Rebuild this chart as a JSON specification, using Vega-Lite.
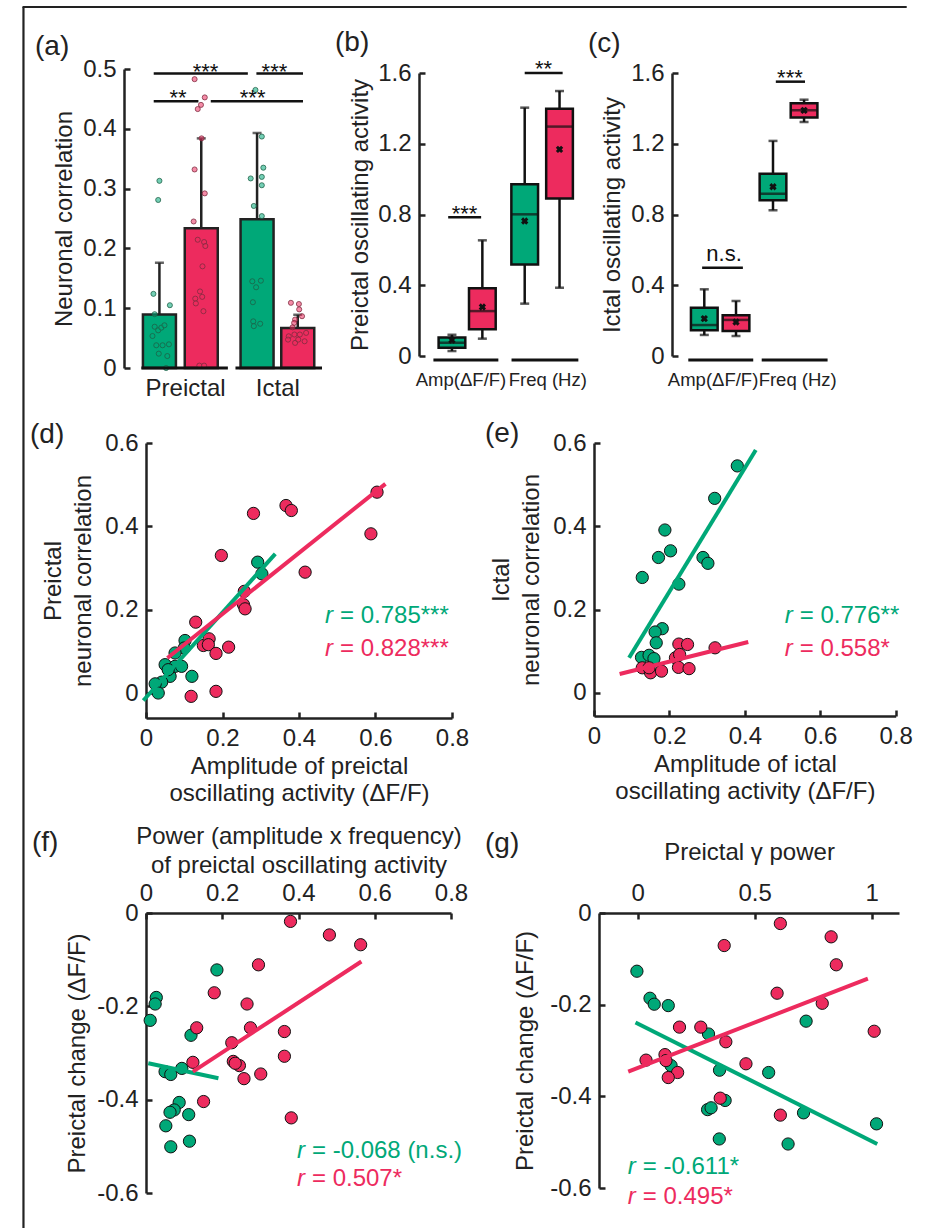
{
 "$schema": "https://vega.github.io/schema/vega-lite/v6.json",
 "padding": {"left": 21, "top": 5, "right": 34, "bottom": 17},
 "background": "white",
 "columns": 3,
 "spacing": {"row": 75, "column": 10},
 "bounds": "flush",
 "align": {"row": "each", "column": "each"},
 "resolve": {"scale": {"color": "independent", "fill": "independent", "stroke": "independent"}},
 "config": {
  "font": "Liberation Sans",
  "view": {"stroke": null},
  "axis": {"grid": false, "domainColor": "#222", "domainWidth": 2.5, "tickColor": "#222", "tickWidth": 2.5, "tickSize": -6, "labelColor": "#222", "labelFont": "Liberation Sans", "labelFontSize": 24, "labelPadding": 14, "labelFlush": false, "labelOverlap": false, "titleColor": "#222", "titleFont": "Liberation Sans", "titleFontSize": 24, "titleFontWeight": "normal", "titlePadding": 6},
  "title": {"font": "Liberation Sans", "fontSize": 28, "fontWeight": "normal", "anchor": "start", "frame": "group", "offset": 0, "color": "#222"},
  "text": {"font": "Liberation Sans", "fontSize": 24}
 },
 "datasets": {
  "frame_v": [{"pos": -111, "v": 0.6037, "v2": -1.44}],
  "frame_h": [{"pos": -112, "pos2": 818, "v": 0.6037}],
  "a_bars": [
   {"series": "S1", "phase": "Preictal", "pos": 32, "mean": 0.0894, "top": 0.176},
   {"series": "S2", "phase": "Preictal", "pos": 76, "mean": 0.2335, "top": 0.384},
   {"series": "S1", "phase": "Ictal", "pos": 134.7, "mean": 0.2486, "top": 0.393},
   {"series": "S2", "phase": "Ictal", "pos": 177.5, "mean": 0.067, "top": 0.089}
  ],
  "a_dots": [
   {"series": "S1", "pos": 32, "v": 0.313}, {"series": "S1", "pos": 30.7, "v": 0.281}, {"series": "S1", "pos": 25.7, "v": 0.124}, {"series": "S1", "pos": 43, "v": 0.105},
   {"series": "S1", "pos": 27, "v": 0.09}, {"series": "S1", "pos": 27, "v": 0.069}, {"series": "S1", "pos": 30.7, "v": 0.063}, {"series": "S1", "pos": 34, "v": 0.0675},
   {"series": "S1", "pos": 37.3, "v": 0.0714}, {"series": "S1", "pos": 24.7, "v": 0.0535}, {"series": "S1", "pos": 28.7, "v": 0.038}, {"series": "S1", "pos": 35.3, "v": 0.038},
   {"series": "S1", "pos": 42, "v": 0.0396}, {"series": "S1", "pos": 31.3, "v": 0.024}, {"series": "S1", "pos": 40.3, "v": 0.02}, {"series": "S1", "pos": 39, "v": 0.0},
   {"series": "S2", "pos": 69, "v": 0.483}, {"series": "S2", "pos": 79.7, "v": 0.4525}, {"series": "S2", "pos": 75.7, "v": 0.44}, {"series": "S2", "pos": 72.3, "v": 0.433},
   {"series": "S2", "pos": 76.3, "v": 0.384}, {"series": "S2", "pos": 69, "v": 0.332}, {"series": "S2", "pos": 79.7, "v": 0.292}, {"series": "S2", "pos": 68, "v": 0.245},
   {"series": "S2", "pos": 72.3, "v": 0.2145}, {"series": "S2", "pos": 79, "v": 0.2106}, {"series": "S2", "pos": 80.3, "v": 0.204}, {"series": "S2", "pos": 77.3, "v": 0.17},
   {"series": "S2", "pos": 74.7, "v": 0.128}, {"series": "S2", "pos": 77, "v": 0.119}, {"series": "S2", "pos": 69.7, "v": 0.116}, {"series": "S2", "pos": 70.3, "v": 0.108},
   {"series": "S2", "pos": 78.3, "v": 0.095}, {"series": "S2", "pos": 74, "v": 0.004}, {"series": "S2", "pos": 79, "v": 0.004},
   {"series": "S1", "pos": 133, "v": 0.465}, {"series": "S1", "pos": 139.7, "v": 0.387}, {"series": "S1", "pos": 141.3, "v": 0.335}, {"series": "S1", "pos": 128, "v": 0.317},
   {"series": "S1", "pos": 139.7, "v": 0.3196}, {"series": "S1", "pos": 139.7, "v": 0.3056}, {"series": "S1", "pos": 131.3, "v": 0.271}, {"series": "S1", "pos": 139.7, "v": 0.254},
   {"series": "S1", "pos": 129.7, "v": 0.145}, {"series": "S1", "pos": 138.7, "v": 0.146}, {"series": "S1", "pos": 133.7, "v": 0.135}, {"series": "S1", "pos": 130.3, "v": 0.11},
   {"series": "S1", "pos": 130.7, "v": 0.078}, {"series": "S1", "pos": 138, "v": 0.074}, {"series": "S1", "pos": 131.3, "v": 0.07},
   {"series": "S2", "pos": 170.3, "v": 0.109}, {"series": "S2", "pos": 178.7, "v": 0.107}, {"series": "S2", "pos": 179, "v": 0.098}, {"series": "S2", "pos": 182, "v": 0.0866},
   {"series": "S2", "pos": 174.7, "v": 0.081}, {"series": "S2", "pos": 173.7, "v": 0.0754}, {"series": "S2", "pos": 172, "v": 0.068}, {"series": "S2", "pos": 168, "v": 0.053},
   {"series": "S2", "pos": 174, "v": 0.056}, {"series": "S2", "pos": 179.7, "v": 0.056}, {"series": "S2", "pos": 186.3, "v": 0.0587}, {"series": "S2", "pos": 184.7, "v": 0.0447},
   {"series": "S2", "pos": 174.7, "v": 0.042}, {"series": "S2", "pos": 178, "v": 0.0475}, {"series": "S2", "pos": 167.3, "v": 0.0475}
  ],
  "a_axis": [{"pos": 13, "pos2": 104}, {"pos": 112, "pos2": 203}],
  "a_sig": [
   {"pos": 26, "pos2": 125, "v": 0.4925, "label": "***", "tpos": 80.5, "tv": 0.4833},
   {"pos": 134, "pos2": 183, "v": 0.4925, "label": "***", "tpos": 153, "tv": 0.4833},
   {"pos": 26, "pos2": 73, "v": 0.446, "label": "**", "tpos": 51.5, "tv": 0.439},
   {"pos": 86, "pos2": 183, "v": 0.446, "label": "***", "tpos": 130, "tv": 0.439}
  ],
  "b_box": [
   {"series": "S1", "var": "Amp", "pos": 29.7, "lo": 0.028, "q1": 0.047, "med": 0.075, "q3": 0.104, "hi": 0.12, "mean": 0.09},
   {"series": "S2", "var": "Amp", "pos": 62, "lo": 0.098, "q1": 0.151, "med": 0.254, "q3": 0.383, "hi": 0.654, "mean": 0.277},
   {"series": "S1", "var": "Freq", "pos": 107, "lo": 0.296, "q1": 0.518, "med": 0.801, "q3": 0.971, "hi": 1.404, "mean": 0.763},
   {"series": "S2", "var": "Freq", "pos": 144, "lo": 0.386, "q1": 0.891, "med": 1.297, "q3": 1.398, "hi": 1.498, "mean": 1.168}
  ],
  "b_axis": [{"pos": 10, "pos2": 79}, {"pos": 93, "pos2": 164}],
  "b_sig": [
   {"pos": 25.7, "pos2": 60.7, "v": 0.785, "label": "***", "tpos": 43, "tv": 0.766},
   {"pos": 107, "pos2": 147.3, "v": 1.6, "label": "**", "tpos": 127, "tv": 1.583}
  ],
  "c_box": [
   {"series": "S1", "var": "Amp", "pos": 29, "lo": 0.119, "q1": 0.145, "med": 0.175, "q3": 0.273, "hi": 0.377, "mean": 0.211},
   {"series": "S2", "var": "Amp", "pos": 62.7, "lo": 0.113, "q1": 0.141, "med": 0.204, "q3": 0.23, "hi": 0.311, "mean": 0.192},
   {"series": "S1", "var": "Freq", "pos": 102, "lo": 0.824, "q1": 0.88, "med": 0.918, "q3": 1.031, "hi": 1.216, "mean": 0.957},
   {"series": "S2", "var": "Freq", "pos": 135, "lo": 1.323, "q1": 1.348, "med": 1.389, "q3": 1.429, "hi": 1.449, "mean": 1.389}
  ],
  "c_axis": [{"pos": 12, "pos2": 81}, {"pos": 90, "pos2": 160}],
  "c_sig": [
   {"pos": 26.7, "pos2": 70, "v": 0.499, "label": "n.s.", "tpos": 50, "tv": 0.537},
   {"pos": 105, "pos2": 136, "v": 1.551, "label": "***", "tpos": 120, "tv": 1.53}
  ],
  "d_pts": [
   {"series": "S1", "x": 0.292, "y": 0.314}, {"series": "S1", "x": 0.303, "y": 0.286}, {"series": "S1", "x": 0.102, "y": 0.126}, {"series": "S1", "x": 0.1, "y": 0.108},
   {"series": "S1", "x": 0.076, "y": 0.096}, {"series": "S1", "x": 0.05, "y": 0.068}, {"series": "S1", "x": 0.076, "y": 0.064}, {"series": "S1", "x": 0.093, "y": 0.064},
   {"series": "S1", "x": 0.063, "y": 0.04}, {"series": "S1", "x": 0.12, "y": 0.04}, {"series": "S1", "x": 0.041, "y": 0.026}, {"series": "S1", "x": 0.024, "y": 0.022},
   {"series": "S1", "x": 0.032, "y": 0.0}, {"series": "S1", "x": 0.058, "y": 0.056},
   {"series": "S2", "x": 0.604, "y": 0.482}, {"series": "S2", "x": 0.588, "y": 0.382}, {"series": "S2", "x": 0.366, "y": 0.45}, {"series": "S2", "x": 0.38, "y": 0.438},
   {"series": "S2", "x": 0.281, "y": 0.431}, {"series": "S2", "x": 0.197, "y": 0.33}, {"series": "S2", "x": 0.416, "y": 0.29}, {"series": "S2", "x": 0.257, "y": 0.244},
   {"series": "S2", "x": 0.255, "y": 0.212}, {"series": "S2", "x": 0.259, "y": 0.202}, {"series": "S2", "x": 0.13, "y": 0.17}, {"series": "S2", "x": 0.15, "y": 0.114},
   {"series": "S2", "x": 0.165, "y": 0.13}, {"series": "S2", "x": 0.163, "y": 0.116}, {"series": "S2", "x": 0.183, "y": 0.095}, {"series": "S2", "x": 0.216, "y": 0.11},
   {"series": "S2", "x": 0.118, "y": -0.008}, {"series": "S2", "x": 0.183, "y": 0.004}
  ],
  "d_fit": [
   {"series": "S1", "x": -0.007, "y": -0.018, "x2": 0.338, "y2": 0.334},
   {"series": "S2", "x": 0.056, "y": 0.084, "x2": 0.626, "y2": 0.502}
  ],
  "d_r": [
   {"series": "S1", "x": 0.468, "y": 0.169, "txt": "= 0.785***"},
   {"series": "S2", "x": 0.468, "y": 0.089, "txt": "= 0.828***"}
  ],
  "e_pts": [
   {"series": "S1", "x": 0.38, "y": 0.545}, {"series": "S1", "x": 0.32, "y": 0.467}, {"series": "S1", "x": 0.188, "y": 0.391}, {"series": "S1", "x": 0.203, "y": 0.341},
   {"series": "S1", "x": 0.171, "y": 0.325}, {"series": "S1", "x": 0.289, "y": 0.325}, {"series": "S1", "x": 0.302, "y": 0.311}, {"series": "S1", "x": 0.128, "y": 0.277},
   {"series": "S1", "x": 0.225, "y": 0.261}, {"series": "S1", "x": 0.181, "y": 0.154}, {"series": "S1", "x": 0.162, "y": 0.146}, {"series": "S1", "x": 0.165, "y": 0.12},
   {"series": "S1", "x": 0.126, "y": 0.085}, {"series": "S1", "x": 0.146, "y": 0.09}, {"series": "S1", "x": 0.159, "y": 0.082},
   {"series": "S2", "x": 0.321, "y": 0.108}, {"series": "S2", "x": 0.225, "y": 0.117}, {"series": "S2", "x": 0.248, "y": 0.116}, {"series": "S2", "x": 0.216, "y": 0.084},
   {"series": "S2", "x": 0.227, "y": 0.092}, {"series": "S2", "x": 0.128, "y": 0.06}, {"series": "S2", "x": 0.15, "y": 0.048}, {"series": "S2", "x": 0.179, "y": 0.052},
   {"series": "S2", "x": 0.224, "y": 0.061}, {"series": "S2", "x": 0.252, "y": 0.058}, {"series": "S2", "x": 0.146, "y": 0.06}
  ],
  "e_fit": [
   {"series": "S1", "x": 0.093, "y": 0.084, "x2": 0.429, "y2": 0.583},
   {"series": "S2", "x": 0.068, "y": 0.045, "x2": 0.409, "y2": 0.122}
  ],
  "e_r": [
   {"series": "S1", "x": 0.506, "y": 0.168, "txt": "= 0.776**"},
   {"series": "S2", "x": 0.506, "y": 0.088, "txt": "= 0.558*"}
  ],
  "f_pts": [
   {"series": "S1", "x": 0.186, "y": -0.122}, {"series": "S1", "x": 0.027, "y": -0.181}, {"series": "S1", "x": 0.024, "y": -0.195}, {"series": "S1", "x": 0.011, "y": -0.23},
   {"series": "S1", "x": 0.118, "y": -0.262}, {"series": "S1", "x": 0.094, "y": -0.333}, {"series": "S1", "x": 0.05, "y": -0.34}, {"series": "S1", "x": 0.065, "y": -0.346},
   {"series": "S1", "x": 0.087, "y": -0.406}, {"series": "S1", "x": 0.074, "y": -0.422}, {"series": "S1", "x": 0.063, "y": -0.427}, {"series": "S1", "x": 0.112, "y": -0.432},
   {"series": "S1", "x": 0.052, "y": -0.456}, {"series": "S1", "x": 0.114, "y": -0.489}, {"series": "S1", "x": 0.065, "y": -0.501},
   {"series": "S2", "x": 0.379, "y": -0.018}, {"series": "S2", "x": 0.481, "y": -0.047}, {"series": "S2", "x": 0.563, "y": -0.068}, {"series": "S2", "x": 0.295, "y": -0.111},
   {"series": "S2", "x": 0.179, "y": -0.171}, {"series": "S2", "x": 0.265, "y": -0.195}, {"series": "S2", "x": 0.133, "y": -0.246}, {"series": "S2", "x": 0.274, "y": -0.246},
   {"series": "S2", "x": 0.363, "y": -0.254}, {"series": "S2", "x": 0.225, "y": -0.278}, {"series": "S2", "x": 0.123, "y": -0.32}, {"series": "S2", "x": 0.229, "y": -0.318},
   {"series": "S2", "x": 0.245, "y": -0.327}, {"series": "S2", "x": 0.234, "y": -0.322}, {"series": "S2", "x": 0.257, "y": -0.355}, {"series": "S2", "x": 0.301, "y": -0.345},
   {"series": "S2", "x": 0.363, "y": -0.307}, {"series": "S2", "x": 0.151, "y": -0.404}, {"series": "S2", "x": 0.381, "y": -0.439}
  ],
  "f_fit": [
   {"series": "S1", "x": 0.006, "y": -0.322, "x2": 0.19, "y2": -0.354},
   {"series": "S2", "x": 0.123, "y": -0.34, "x2": 0.565, "y2": -0.104}
  ],
  "f_r": [
   {"series": "S1", "x": 0.396, "y": -0.524, "txt": "= -0.068 (n.s.)"},
   {"series": "S2", "x": 0.396, "y": -0.585, "txt": "= 0.507*"}
  ],
  "g_pts": [
   {"series": "S1", "x": -0.003, "y": -0.127}, {"series": "S1", "x": 0.053, "y": -0.186}, {"series": "S1", "x": 0.071, "y": -0.199}, {"series": "S1", "x": 0.131, "y": -0.202},
   {"series": "S1", "x": 0.303, "y": -0.264}, {"series": "S1", "x": 0.72, "y": -0.236}, {"series": "S1", "x": 0.35, "y": -0.343}, {"series": "S1", "x": 0.56, "y": -0.348},
   {"series": "S1", "x": 0.143, "y": -0.333}, {"series": "S1", "x": 0.374, "y": -0.409}, {"series": "S1", "x": 0.299, "y": -0.429}, {"series": "S1", "x": 0.314, "y": -0.425},
   {"series": "S1", "x": 0.349, "y": -0.493}, {"series": "S1", "x": 0.709, "y": -0.436}, {"series": "S1", "x": 0.643, "y": -0.504}, {"series": "S1", "x": 1.021, "y": -0.46},
   {"series": "S2", "x": 0.61, "y": -0.023}, {"series": "S2", "x": 0.827, "y": -0.052}, {"series": "S2", "x": 0.37, "y": -0.071}, {"series": "S2", "x": 0.849, "y": -0.113},
   {"series": "S2", "x": 0.596, "y": -0.175}, {"series": "S2", "x": 0.789, "y": -0.197}, {"series": "S2", "x": 1.011, "y": -0.258}, {"series": "S2", "x": 0.179, "y": -0.249},
   {"series": "S2", "x": 0.27, "y": -0.249}, {"series": "S2", "x": 0.377, "y": -0.281}, {"series": "S2", "x": 0.036, "y": -0.321}, {"series": "S2", "x": 0.117, "y": -0.309},
   {"series": "S2", "x": 0.121, "y": -0.322}, {"series": "S2", "x": 0.171, "y": -0.348}, {"series": "S2", "x": 0.131, "y": -0.359}, {"series": "S2", "x": 0.463, "y": -0.329},
   {"series": "S2", "x": 0.353, "y": -0.404}, {"series": "S2", "x": 0.61, "y": -0.441}
  ],
  "g_fit": [
   {"series": "S1", "x": -0.009, "y": -0.239, "x2": 1.024, "y2": -0.504},
   {"series": "S2", "x": -0.04, "y": -0.346, "x2": 0.984, "y2": -0.143}
  ],
  "g_r": [
   {"series": "S1", "x": -0.042, "y": -0.57, "txt": "= -0.611*"},
   {"series": "S2", "x": -0.042, "y": -0.634, "txt": "= 0.495*"}
  ]
 },
 "concat": [
  {
   "width": 253, "height": 299,
   "title": {"text": "(a)", "dx": -111, "dy": 59},
   "layer": [
    {"data": {"name": "a_bars"}, "mark": {"type": "bar", "width": 33, "stroke": "#222", "strokeWidth": 2.5},
     "encoding": {
      "x": {"field": "pos", "type": "quantitative", "scale": {"domain": [0, 203], "range": [-22, 181], "nice": false, "zero": false}, "axis": {"values": [59, 156], "labelExpr": "datum.value < 100 ? 'Preictal' : 'Ictal'", "ticks": false, "domain": false, "title": null, "labelPadding": 8}},
      "y": {"field": "mean", "type": "quantitative", "scale": {"domain": [0, 0.5], "nice": false, "zero": false}, "axis": {"values": [0, 0.1, 0.2, 0.3, 0.4, 0.5], "labelExpr": "datum.value == 0 ? '0' : (datum.value < 0 ? '-' : '') + format(abs(datum.value), '~g')", "title": "Neuronal correlation", "offset": 22}},
      "y2": {"datum": 0},
      "fill": {"field": "series", "type": "nominal", "scale": {"domain": ["S1", "S2"], "range": ["#00A878", "#ED2B5E"]}, "legend": null}
     }},
    {"data": {"name": "a_bars"}, "mark": {"type": "rule", "strokeWidth": 2.5, "color": "#222"},
     "encoding": {"x": {"field": "pos", "type": "quantitative"}, "y": {"field": "mean", "type": "quantitative"}, "y2": {"field": "top"}}},
    {"data": {"name": "a_bars"}, "mark": {"type": "tick", "orient": "horizontal", "size": 9, "thickness": 2.5, "color": "#222"},
     "encoding": {"x": {"field": "pos", "type": "quantitative"}, "y": {"field": "top", "type": "quantitative"}}},
    {"data": {"name": "a_dots"}, "mark": {"type": "point", "filled": true, "size": 26, "strokeWidth": 0.9, "opacity": 1, "fillOpacity": 0.55, "strokeOpacity": 0.85},
     "encoding": {"x": {"field": "pos", "type": "quantitative"}, "y": {"field": "v", "type": "quantitative"},
      "color": {"field": "series", "type": "nominal", "scale": {"domain": ["S1", "S2"], "range": ["#00A878", "#ED2B5E"]}, "legend": null},
      "stroke": {"field": "series", "type": "nominal", "scale": {"domain": ["S1", "S2"], "range": ["#1E5E46", "#7A2B3E"]}, "legend": null}}},
    {"data": {"name": "a_axis"}, "mark": {"type": "rule", "strokeWidth": 3, "color": "#111"},
     "encoding": {"x": {"field": "pos", "type": "quantitative"}, "x2": {"field": "pos2"}, "y": {"datum": 0}}},
    {"data": {"name": "a_sig"}, "mark": {"type": "rule", "strokeWidth": 2.5, "color": "#111"},
     "encoding": {"x": {"field": "pos", "type": "quantitative"}, "x2": {"field": "pos2"}, "y": {"field": "v", "type": "quantitative"}}},
    {"data": {"name": "a_sig"}, "mark": {"type": "text", "fontSize": 22, "align": "center", "baseline": "alphabetic", "color": "#111"},
     "encoding": {"x": {"field": "tpos", "type": "quantitative"}, "y": {"field": "tv", "type": "quantitative"}, "text": {"field": "label"}}},
    {"data": {"name": "frame_h"}, "mark": {"type": "rule", "strokeWidth": 2.2, "color": "#222"},
     "encoding": {"x": {"field": "pos", "type": "quantitative"}, "x2": {"field": "pos2"}, "y": {"field": "v", "type": "quantitative"}}},
    {"data": {"name": "frame_v"}, "mark": {"type": "rule", "strokeWidth": 2.2, "color": "#222"},
     "encoding": {"x": {"field": "pos", "type": "quantitative"}, "y": {"field": "v", "type": "quantitative"}, "y2": {"field": "v2"}}}
   ]
  },
  {
   "width": 253, "height": 299,
   "title": {"text": "(b)", "dx": -74, "dy": 3},
   "layer": [
    {"data": {"name": "b_box"}, "mark": {"type": "rule", "strokeWidth": 2.5, "color": "#111"},
     "encoding": {
      "x": {"field": "pos", "type": "quantitative", "scale": {"domain": [0, 170], "range": [10, 180], "nice": false, "zero": false}, "axis": {"values": [38.8, 131], "labelExpr": "datum.value < 80 ? 'Amp(ΔF/F)' : 'Freq (Hz)'", "ticks": false, "domain": false, "title": null, "labelFontSize": 18.5, "labelPadding": 2}},
      "y": {"field": "lo", "type": "quantitative", "scale": {"domain": [0, 1.6], "range": [287, 4], "nice": false, "zero": false}, "axis": {"values": [0, 0.4, 0.8, 1.2, 1.6], "labelExpr": "datum.value == 0 ? '0' : (datum.value < 0 ? '-' : '') + format(abs(datum.value), '~g')", "title": "Preictal oscillating activity", "titlePadding": 5, "offset": -10}},
      "y2": {"field": "hi"}}},
    {"data": {"name": "b_box"}, "mark": {"type": "tick", "orient": "horizontal", "size": 9, "thickness": 2.5, "color": "#111"},
     "encoding": {"x": {"field": "pos", "type": "quantitative"}, "y": {"field": "lo", "type": "quantitative"}}},
    {"data": {"name": "b_box"}, "mark": {"type": "tick", "orient": "horizontal", "size": 9, "thickness": 2.5, "color": "#111"},
     "encoding": {"x": {"field": "pos", "type": "quantitative"}, "y": {"field": "hi", "type": "quantitative"}}},
    {"data": {"name": "b_box"}, "mark": {"type": "bar", "width": 26.7, "stroke": "#111", "strokeWidth": 2.5},
     "encoding": {"x": {"field": "pos", "type": "quantitative"}, "y": {"field": "q1", "type": "quantitative"}, "y2": {"field": "q3"},
      "fill": {"field": "series", "type": "nominal", "scale": {"domain": ["S1", "S2"], "range": ["#00A878", "#ED2B5E"]}, "legend": null}}},
    {"data": {"name": "b_box"}, "mark": {"type": "tick", "orient": "horizontal", "size": 26.7, "thickness": 2.5, "color": "#111"},
     "encoding": {"x": {"field": "pos", "type": "quantitative"}, "y": {"field": "med", "type": "quantitative"}}},
    {"data": {"name": "b_box"}, "mark": {"type": "point", "shape": "cross", "angle": 45, "filled": true, "size": 55, "color": "#111", "opacity": 1},
     "encoding": {"x": {"field": "pos", "type": "quantitative"}, "y": {"field": "mean", "type": "quantitative"}}},
    {"data": {"name": "b_axis"}, "mark": {"type": "rule", "strokeWidth": 3, "color": "#111"},
     "encoding": {"x": {"field": "pos", "type": "quantitative"}, "x2": {"field": "pos2"}, "y": {"datum": -0.0226}}},
    {"data": {"name": "b_sig"}, "mark": {"type": "rule", "strokeWidth": 2.5, "color": "#111"},
     "encoding": {"x": {"field": "pos", "type": "quantitative"}, "x2": {"field": "pos2"}, "y": {"field": "v", "type": "quantitative"}}},
    {"data": {"name": "b_sig"}, "mark": {"type": "text", "fontSize": 22, "align": "center", "baseline": "alphabetic", "color": "#111"},
     "encoding": {"x": {"field": "tpos", "type": "quantitative"}, "y": {"field": "tv", "type": "quantitative"}, "text": {"field": "label"}}}
   ]
  },
  {
   "width": 253, "height": 299,
   "title": {"text": "(c)", "dx": -84, "dy": 1},
   "layer": [
    {"data": {"name": "c_box"}, "mark": {"type": "rule", "strokeWidth": 2.5, "color": "#111"},
     "encoding": {
      "x": {"field": "pos", "type": "quantitative", "scale": {"domain": [0, 170], "range": [0, 170], "nice": false, "zero": false}, "axis": {"values": [37.8, 127.7], "labelExpr": "datum.value < 80 ? 'Amp(ΔF/F)' : 'Freq (Hz)'", "ticks": false, "domain": false, "title": null, "labelFontSize": 18.5, "labelPadding": 2}},
      "y": {"field": "lo", "type": "quantitative", "scale": {"domain": [0, 1.6], "range": [287, 4], "nice": false, "zero": false}, "axis": {"values": [0, 0.4, 0.8, 1.2, 1.6], "labelExpr": "datum.value == 0 ? '0' : (datum.value < 0 ? '-' : '') + format(abs(datum.value), '~g')", "title": "Ictal oscillating activity", "titlePadding": 6}},
      "y2": {"field": "hi"}}},
    {"data": {"name": "c_box"}, "mark": {"type": "tick", "orient": "horizontal", "size": 9, "thickness": 2.5, "color": "#111"},
     "encoding": {"x": {"field": "pos", "type": "quantitative"}, "y": {"field": "lo", "type": "quantitative"}}},
    {"data": {"name": "c_box"}, "mark": {"type": "tick", "orient": "horizontal", "size": 9, "thickness": 2.5, "color": "#111"},
     "encoding": {"x": {"field": "pos", "type": "quantitative"}, "y": {"field": "hi", "type": "quantitative"}}},
    {"data": {"name": "c_box"}, "mark": {"type": "bar", "width": 26.7, "stroke": "#111", "strokeWidth": 2.5},
     "encoding": {"x": {"field": "pos", "type": "quantitative"}, "y": {"field": "q1", "type": "quantitative"}, "y2": {"field": "q3"},
      "fill": {"field": "series", "type": "nominal", "scale": {"domain": ["S1", "S2"], "range": ["#00A878", "#ED2B5E"]}, "legend": null}}},
    {"data": {"name": "c_box"}, "mark": {"type": "tick", "orient": "horizontal", "size": 26.7, "thickness": 2.5, "color": "#111"},
     "encoding": {"x": {"field": "pos", "type": "quantitative"}, "y": {"field": "med", "type": "quantitative"}}},
    {"data": {"name": "c_box"}, "mark": {"type": "point", "shape": "cross", "angle": 45, "filled": true, "size": 55, "color": "#111", "opacity": 1},
     "encoding": {"x": {"field": "pos", "type": "quantitative"}, "y": {"field": "mean", "type": "quantitative"}}},
    {"data": {"name": "c_axis"}, "mark": {"type": "rule", "strokeWidth": 3, "color": "#111"},
     "encoding": {"x": {"field": "pos", "type": "quantitative"}, "x2": {"field": "pos2"}, "y": {"datum": -0.0226}}},
    {"data": {"name": "c_sig"}, "mark": {"type": "rule", "strokeWidth": 2.5, "color": "#111"},
     "encoding": {"x": {"field": "pos", "type": "quantitative"}, "x2": {"field": "pos2"}, "y": {"field": "v", "type": "quantitative"}}},
    {"data": {"name": "c_sig"}, "mark": {"type": "text", "fontSize": 22, "align": "center", "baseline": "alphabetic", "color": "#111"},
     "encoding": {"x": {"field": "tpos", "type": "quantitative"}, "y": {"field": "tv", "type": "quantitative"}, "text": {"field": "label"}}}
   ]
  },
  {
   "width": 253, "height": 275,
   "title": {"text": "(d)", "dx": -116, "dy": 22},
   "layer": [
    {"data": {"name": "d_pts"}, "mark": {"type": "point", "filled": true, "size": 150, "stroke": "#111", "strokeWidth": 1, "opacity": 1},
     "encoding": {
      "x": {"field": "x", "type": "quantitative", "scale": {"domain": [0, 0.8], "range": [0, 306], "nice": false, "zero": false}, "axis": {"values": [0, 0.2, 0.4, 0.6, 0.8], "labelExpr": "datum.value == 0 ? '0' : (datum.value < 0 ? '-' : '') + format(abs(datum.value), '~g')", "title": ["Amplitude of preictal", "oscillating activity (ΔF/F)"], "titleLineHeight": 27, "titlePadding": 4}},
      "y": {"field": "y", "type": "quantitative", "scale": {"domain": [-0.06, 0.6], "nice": false, "zero": false}, "axis": {"values": [0, 0.2, 0.4, 0.6], "labelExpr": "datum.value == 0 ? '0' : (datum.value < 0 ? '-' : '') + format(abs(datum.value), '~g')", "title": ["Preictal", "neuronal correlation"], "titleLineHeight": 30, "titlePadding": 9}},
      "color": {"field": "series", "type": "nominal", "scale": {"domain": ["S1", "S2"], "range": ["#00A878", "#ED2B5E"]}, "legend": null}}},
    {"data": {"name": "d_fit"}, "mark": {"type": "rule", "strokeWidth": 4},
     "encoding": {"x": {"field": "x", "type": "quantitative"}, "y": {"field": "y", "type": "quantitative"}, "x2": {"field": "x2"}, "y2": {"field": "y2"}, "color": {"field": "series", "type": "nominal", "legend": null}}},
    {"data": {"name": "d_r"}, "mark": {"type": "text", "text": "r", "fontStyle": "italic", "fontSize": 24, "align": "left", "baseline": "alphabetic"},
     "encoding": {"x": {"field": "x", "type": "quantitative"}, "y": {"field": "y", "type": "quantitative"}, "color": {"field": "series", "type": "nominal", "legend": null}}},
    {"data": {"name": "d_r"}, "mark": {"type": "text", "fontSize": 24, "align": "left", "baseline": "alphabetic", "dx": 15},
     "encoding": {"x": {"field": "x", "type": "quantitative"}, "y": {"field": "y", "type": "quantitative"}, "text": {"field": "txt"}, "color": {"field": "series", "type": "nominal", "legend": null}}}
   ]
  },
  {
   "width": 253, "height": 273,
   "title": {"text": "(e)", "dx": 76, "dy": 21},
   "layer": [
    {"data": {"name": "e_pts"}, "mark": {"type": "point", "filled": true, "size": 150, "stroke": "#111", "strokeWidth": 1, "opacity": 1},
     "encoding": {
      "x": {"field": "x", "type": "quantitative", "scale": {"domain": [0, 0.8], "range": [185, 486.7], "nice": false, "zero": false}, "axis": {"values": [0, 0.2, 0.4, 0.6, 0.8], "labelExpr": "datum.value == 0 ? '0' : (datum.value < 0 ? '-' : '') + format(abs(datum.value), '~g')", "title": ["Amplitude of ictal", "oscillating activity (ΔF/F)"], "titleLineHeight": 27, "titlePadding": 4}},
      "y": {"field": "y", "type": "quantitative", "scale": {"domain": [-0.0558, 0.6], "nice": false, "zero": false}, "axis": {"values": [0, 0.2, 0.4, 0.6], "labelExpr": "datum.value == 0 ? '0' : (datum.value < 0 ? '-' : '') + format(abs(datum.value), '~g')", "title": ["Ictal", "neuronal correlation"], "titleLineHeight": 30, "titlePadding": 9, "offset": -185}},
      "color": {"field": "series", "type": "nominal", "scale": {"domain": ["S1", "S2"], "range": ["#00A878", "#ED2B5E"]}, "legend": null}}},
    {"data": {"name": "e_fit"}, "mark": {"type": "rule", "strokeWidth": 4},
     "encoding": {"x": {"field": "x", "type": "quantitative"}, "y": {"field": "y", "type": "quantitative"}, "x2": {"field": "x2"}, "y2": {"field": "y2"}, "color": {"field": "series", "type": "nominal", "legend": null}}},
    {"data": {"name": "e_r"}, "mark": {"type": "text", "text": "r", "fontStyle": "italic", "fontSize": 24, "align": "left", "baseline": "alphabetic"},
     "encoding": {"x": {"field": "x", "type": "quantitative"}, "y": {"field": "y", "type": "quantitative"}, "color": {"field": "series", "type": "nominal", "legend": null}}},
    {"data": {"name": "e_r"}, "mark": {"type": "text", "fontSize": 24, "align": "left", "baseline": "alphabetic", "dx": 15},
     "encoding": {"x": {"field": "x", "type": "quantitative"}, "y": {"field": "y", "type": "quantitative"}, "text": {"field": "txt"}, "color": {"field": "series", "type": "nominal", "legend": null}}}
   ]
  },
  {
   "width": 253, "height": 395,
   "data": {"values": [{"k": 0}]},
   "mark": {"type": "point", "opacity": 0}
  },
  {
   "width": 253, "height": 280,
   "title": {"text": "(f)", "dx": -114, "dy": 37},
   "layer": [
    {"data": {"name": "f_pts"}, "mark": {"type": "point", "filled": true, "size": 150, "stroke": "#111", "strokeWidth": 1, "opacity": 1},
     "encoding": {
      "x": {"field": "x", "type": "quantitative", "scale": {"domain": [0, 0.8], "range": [0, 305], "nice": false, "zero": false}, "axis": {"orient": "top", "values": [0, 0.2, 0.4, 0.6, 0.8], "labelExpr": "datum.value == 0 ? '0' : (datum.value < 0 ? '-' : '') + format(abs(datum.value), '~g')", "title": ["Power (amplitude x frequency)", "of preictal oscillating activity"], "titleLineHeight": 29, "titlePadding": 4}},
      "y": {"field": "y", "type": "quantitative", "scale": {"domain": [-0.6, 0], "nice": false, "zero": false}, "axis": {"values": [-0.6, -0.4, -0.2, 0], "labelExpr": "datum.value == 0 ? '0' : (datum.value < 0 ? '-' : '') + format(abs(datum.value), '~g')", "title": "Preictal change (ΔF/F)", "titlePadding": 7}},
      "color": {"field": "series", "type": "nominal", "scale": {"domain": ["S1", "S2"], "range": ["#00A878", "#ED2B5E"]}, "legend": null}}},
    {"data": {"name": "f_fit"}, "mark": {"type": "rule", "strokeWidth": 4},
     "encoding": {"x": {"field": "x", "type": "quantitative"}, "y": {"field": "y", "type": "quantitative"}, "x2": {"field": "x2"}, "y2": {"field": "y2"}, "color": {"field": "series", "type": "nominal", "legend": null}}},
    {"data": {"name": "f_r"}, "mark": {"type": "text", "text": "r", "fontStyle": "italic", "fontSize": 24, "align": "left", "baseline": "alphabetic"},
     "encoding": {"x": {"field": "x", "type": "quantitative"}, "y": {"field": "y", "type": "quantitative"}, "color": {"field": "series", "type": "nominal", "legend": null}}},
    {"data": {"name": "f_r"}, "mark": {"type": "text", "fontSize": 24, "align": "left", "baseline": "alphabetic", "dx": 15},
     "encoding": {"x": {"field": "x", "type": "quantitative"}, "y": {"field": "y", "type": "quantitative"}, "text": {"field": "txt"}, "color": {"field": "series", "type": "nominal", "legend": null}}}
   ]
  },
  {
   "width": 253, "height": 275,
   "title": {"text": "(g)", "dx": 76, "dy": 22},
   "layer": [
    {"data": {"name": "g_pts"}, "mark": {"type": "point", "filled": true, "size": 150, "stroke": "#111", "strokeWidth": 1, "opacity": 1},
     "encoding": {
      "x": {"field": "x", "type": "quantitative", "scale": {"domain": [-0.165, 1.117], "range": [190, 490], "nice": false, "zero": false}, "axis": {"orient": "top", "values": [0, 0.5, 1], "labelExpr": "datum.value == 0 ? '0' : (datum.value < 0 ? '-' : '') + format(abs(datum.value), '~g')", "title": "Preictal γ power", "titlePadding": 17}},
      "y": {"field": "y", "type": "quantitative", "scale": {"domain": [-0.6, 0], "nice": false, "zero": false}, "axis": {"values": [-0.6, -0.4, -0.2, 0], "labelExpr": "datum.value == 0 ? '0' : (datum.value < 0 ? '-' : '') + format(abs(datum.value), '~g')", "title": "Preictal change (ΔF/F)", "titlePadding": 12, "offset": -190}},
      "color": {"field": "series", "type": "nominal", "scale": {"domain": ["S1", "S2"], "range": ["#00A878", "#ED2B5E"]}, "legend": null}}},
    {"data": {"name": "g_fit"}, "mark": {"type": "rule", "strokeWidth": 4},
     "encoding": {"x": {"field": "x", "type": "quantitative"}, "y": {"field": "y", "type": "quantitative"}, "x2": {"field": "x2"}, "y2": {"field": "y2"}, "color": {"field": "series", "type": "nominal", "legend": null}}},
    {"data": {"name": "g_r"}, "mark": {"type": "text", "text": "r", "fontStyle": "italic", "fontSize": 24, "align": "left", "baseline": "alphabetic"},
     "encoding": {"x": {"field": "x", "type": "quantitative"}, "y": {"field": "y", "type": "quantitative"}, "color": {"field": "series", "type": "nominal", "legend": null}}},
    {"data": {"name": "g_r"}, "mark": {"type": "text", "fontSize": 24, "align": "left", "baseline": "alphabetic", "dx": 15},
     "encoding": {"x": {"field": "x", "type": "quantitative"}, "y": {"field": "y", "type": "quantitative"}, "text": {"field": "txt"}, "color": {"field": "series", "type": "nominal", "legend": null}}}
   ]
  }
 ]
}
